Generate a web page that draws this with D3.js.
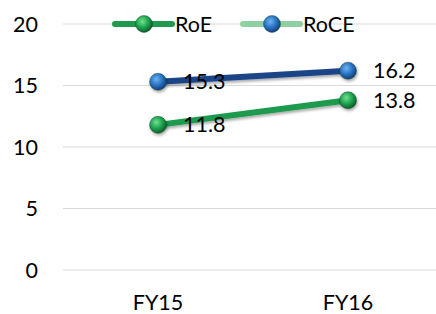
<!DOCTYPE html>
<html><head><meta charset="utf-8">
<script src="https://cdn.jsdelivr.net/npm/d3@7"></script>
<style>body{margin:0;background:#fff}svg{display:block}</style>
</head><body>
<svg id="c" width="436" height="314"></svg>
<script>
const categories = ["FY15", "FY16"];
const roe = [11.8, 13.8];
const roce = [15.3, 16.2];
const yTicks = [0, 5, 10, 15, 20];
const seriesNames = ["RoE", "RoCE"];

const svg = d3.select("#c");
const font = "Lato, 'Open Sans', sans-serif";
const fs = 21.5;
const x = d3.scaleBand().domain(categories).range([63, 443]);
const y = d3.scaleLinear().domain([0, 20]).range([270, 24]);
const cx = d => x(d) + x.bandwidth() / 2;

const defs = svg.append("defs");
function grad(id, light, mid, dark) {
  const g = defs.append("radialGradient").attr("id", id).attr("cx", "40%").attr("cy", "35%").attr("r", "65%");
  g.append("stop").attr("offset", "0%").attr("stop-color", light);
  g.append("stop").attr("offset", "55%").attr("stop-color", mid);
  g.append("stop").attr("offset", "100%").attr("stop-color", dark);
}
grad("gG", "#6fe08f", "#1fa34f", "#0c5e2a");
grad("gB", "#6fb3f0", "#2874c4", "#123f7a");
const f = defs.append("filter").attr("id", "sh").attr("x", "-20%").attr("y", "-50%").attr("width", "140%").attr("height", "200%");
f.append("feGaussianBlur").attr("in", "SourceAlpha").attr("stdDeviation", 1.5);
f.append("feOffset").attr("dx", 1).attr("dy", 2).attr("result", "b");
f.append("feComponentTransfer").append("feFuncA").attr("type", "linear").attr("slope", 0.35);
const m = f.append("feMerge"); m.append("feMergeNode"); m.append("feMergeNode").attr("in", "SourceGraphic");

// gridlines
svg.append("g").selectAll("line").data(yTicks).join("line")
  .attr("x1", 63).attr("x2", 436).attr("y1", d => y(d)).attr("y2", d => y(d))
  .attr("stroke", "#d9d9d9").attr("stroke-width", 1.2);

// y labels
svg.append("g").selectAll("text").data(yTicks).join("text")
  .attr("x", 38).attr("y", d => y(d)).attr("dy", "0.35em").attr("text-anchor", "end")
  .attr("font-family", font).attr("font-size", fs).attr("fill", "#000").text(d => d);

// x labels
svg.append("g").selectAll("text").data(categories).join("text")
  .attr("x", d => cx(d)).attr("y", 309.5).attr("text-anchor", "middle")
  .attr("font-family", font).attr("font-size", fs).attr("fill", "#000").text(d => d);

const series = [
  { name: seriesNames[0], vals: roe, line: "#1f9a4e", grad: "url(#gG)", legLine: "#1f9a4e" },
  { name: seriesNames[1], vals: roce, line: "#1c4587", grad: "url(#gB)", legLine: "#8fd0a2" }
];
const line = d3.line().x((d, i) => cx(categories[i])).y(d => y(d));

series.forEach(s => {
  svg.append("path").datum(s.vals).attr("d", line).attr("fill", "none")
    .attr("stroke", s.line).attr("stroke-width", 6).attr("filter", "url(#sh)");
});
series.forEach(s => {
  svg.append("g").selectAll("circle").data(s.vals).join("circle")
    .attr("cx", (d, i) => cx(categories[i])).attr("cy", d => y(d)).attr("r", 8.5)
    .attr("fill", s.grad).attr("stroke", "#0d3d20").attr("stroke-opacity", 0.4).attr("stroke-width", 1)
    .attr("filter", "url(#sh)");
});
// data labels
series.forEach(s => {
  svg.append("g").selectAll("text").data(s.vals).join("text")
    .attr("x", (d, i) => cx(categories[i]) + 25).attr("y", d => y(d)).attr("dy", "0.35em")
    .attr("font-family", font).attr("font-size", fs).attr("fill", "#000").text(d => d.toFixed(1));
});

// legend
const leg = [{ x: 115 }, { x: 243 }];
series.forEach((s, i) => {
  const g = svg.append("g").attr("transform", `translate(${leg[i].x},24)`);
  g.append("line").attr("x1", 0).attr("x2", 57).attr("y1", 0).attr("y2", 0)
    .attr("stroke", s.legLine).attr("stroke-width", 6).attr("stroke-linecap", "round");
  g.append("circle").attr("cx", 29).attr("cy", 0).attr("r", 8.5).attr("fill", s.grad)
    .attr("stroke", "#0d3d20").attr("stroke-opacity", 0.4);
  g.append("text").attr("x", 60).attr("y", 0).attr("dy", "0.35em")
    .attr("font-family", font).attr("font-size", fs).attr("fill", "#000").text(s.name);
});
</script>
</body></html>
